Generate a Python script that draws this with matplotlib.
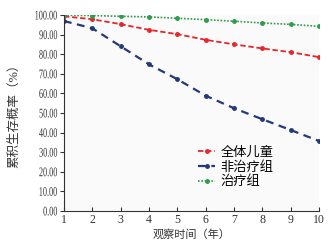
import matplotlib
matplotlib.use("Agg")
import matplotlib.pyplot as plt
from matplotlib.patheffects import AbstractPathEffect
from matplotlib.transforms import Affine2D

years = [1, 2, 3, 4, 5, 6, 7, 8, 9, 10]
all_children = [99.3, 97.8, 95.3, 92.4, 90.2, 87.3, 85.0, 82.9, 81.0, 78.5]
untreated = [96.9, 93.2, 84.0, 74.8, 67.2, 58.8, 52.4, 46.8, 41.3, 35.7]
treated = [99.8, 99.7, 99.3, 99.0, 98.3, 97.6, 96.8, 95.9, 95.2, 94.2]
yticks = [0, 10, 20, 30, 40, 50, 60, 70, 80, 90, 100]


class Squeeze(AbstractPathEffect):
    """narrow the glyphs, keeping the right edge where it was"""
    def __init__(self, sx):
        super().__init__()
        self.sx = sx

    def draw_path(self, renderer, gc, tpath, affine, rgbFace=None):
        xr = tpath.get_extents().x1
        t = Affine2D().translate(-xr, 0).scale(self.sx, 1).translate(xr, 0)
        renderer.draw_path(gc, tpath, t + affine, rgbFace)


fam = ['Liberation Serif', 'Noto Sans CJK SC']
plt.rcParams['font.family'] = fam
ink = '#333333'

fig = plt.figure(figsize=(3.35, 2.49), dpi=100)
ax = fig.add_axes([0.191, 0.153, 0.761, 0.787])
ax.set_facecolor('#fafafa')

ax.plot(years, all_children, color='#e8262a', ls=(0, (3, 1.5)), lw=1.3,
        marker='o', ms=2.5, label='全体儿童')
ax.plot(years, untreated, color='#243a78', ls=(0, (3.5, 2.5)), lw=1.6,
        marker='o', ms=2.5, label='非治疗组')
ax.plot(years, treated, color='#2f9b4c', ls=(0, (1, 1)), lw=1.2,
        marker='o', ms=2.5, label='治疗组')

ax.set_xlim(1, 10)
ax.set_ylim(0, 100)
ax.set_xticks(years)
ax.set_yticks(yticks)
ax.set_yticklabels([f'{v:.2f}' for v in yticks])
for lab in ax.get_yticklabels():
    lab.set_path_effects([Squeeze(0.62)])
ax.spines['top'].set_visible(False)
ax.spines['right'].set_visible(False)
ax.spines['left'].set_color(ink)
ax.spines['bottom'].set_color(ink)
ax.tick_params(axis='x', direction='in', length=3, labelsize=8.5, pad=2, colors=ink)
ax.tick_params(axis='y', direction='out', length=3, labelsize=9.5, pad=1.5, colors=ink)

ax.set_xlabel('观察时间（年）', fontsize=8, color=ink, labelpad=2.5)
ax.set_ylabel('累积生存概率（%）', fontsize=9, color=ink, labelpad=1)

ax.legend(loc='center left', bbox_to_anchor=(0.505, 0.222), frameon=False,
          borderaxespad=0, fontsize=9.5, handlelength=1.3, handletextpad=0.4,
          labelspacing=0.15)

fig.savefig('out.png', dpi=100)
